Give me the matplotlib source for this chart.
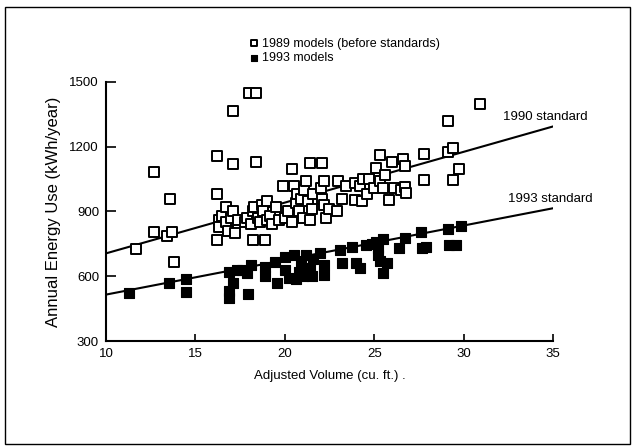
import matplotlib
matplotlib.use("Agg")
import matplotlib.pyplot as plt
from matplotlib.patches import Rectangle

plt.rcParams['font.family'] = ['Liberation Sans', 'DejaVu Sans']

# 1989 models (before standards): adjusted volume (cu. ft.), energy use (kWh/year)
vol_1989 = [11.7, 12.7, 12.7, 13.4, 13.7, 13.6, 13.8,
            16.2, 16.2, 16.2, 16.3, 16.3, 16.5, 16.7, 16.7, 16.8, 17.0, 17.1, 17.2, 17.1, 17.1, 17.4,
            17.8, 17.9, 18.0, 18.1, 18.2, 18.2, 18.3, 18.4, 18.4, 18.5, 18.6, 18.7, 18.8, 18.9, 19.0,
            19.0, 19.2, 19.3, 19.5, 19.7,
            19.9, 20.0, 20.2, 20.4, 20.4, 20.5, 20.6, 20.7, 20.8, 20.9, 21.0, 21.1, 21.2, 21.3, 21.4,
            21.4, 21.5, 21.6, 22.0, 22.1, 22.1, 22.2, 22.2, 22.3, 22.5,
            22.9, 23.0, 23.2, 23.4, 23.9, 23.9, 24.2, 24.3, 24.4, 24.6, 24.7, 25.0, 25.1, 25.3, 25.35,
            25.5, 25.6, 25.8, 26.0, 26.1, 26.5, 26.6, 26.7, 26.7, 26.8,
            27.8, 27.8, 29.1, 29.1, 29.4, 29.4, 29.75, 30.9]
kwh_1989 = [725, 1085, 805, 785, 805, 960, 665,
            770, 980, 1155, 860, 830, 880, 920, 850, 810, 870, 900, 800, 1120, 1365, 860,
            850, 870, 1450, 840, 900, 770, 920, 1450, 1130, 870, 850, 930, 900, 770, 950,
            860, 880, 840, 920, 860,
            1020, 870, 900, 1095, 850, 1020, 940, 980, 900, 960, 870, 1000, 1040, 950, 1125,
            860, 910, 980, 1010, 1125, 960, 1040, 930, 870, 910,
            900, 1040, 960, 1020, 1030, 955, 1020, 950, 1050, 980, 1050, 1010, 1100, 1040, 1160,
            1010, 1070, 955, 1130, 1010, 1000, 1145, 1110, 1015, 985,
            1165, 1045, 1320, 1175, 1195, 1045, 1095, 1400]

# 1993 models
vol_1993 = [11.3, 13.5, 14.5, 14.5, 16.9, 16.9, 16.9, 17.1, 17.3, 17.6, 17.9, 17.95, 18.1,
            18.9, 18.9, 19.45, 19.55, 20.0, 20.0, 20.25, 20.5, 20.6, 20.8, 20.9, 21.0, 21.2,
            21.4, 21.5, 21.6, 21.95, 22.2, 22.2, 23.1, 23.2, 23.75, 24.0, 24.2, 24.55, 24.9,
            25.1, 25.2, 25.2, 25.3, 25.5, 25.5, 25.7, 26.4, 26.7, 27.6, 27.7, 27.9, 29.1, 29.2,
            29.6, 29.85]
kwh_1993 = [524, 570, 588, 527, 500, 530, 620, 570, 630, 630, 615, 520, 650,
            645, 600, 668, 570, 690, 630, 592, 700, 585, 620, 660, 600, 700,
            640, 600, 680, 706, 653, 607, 721, 660, 736, 660, 638, 744, 750,
            760, 700, 730, 670, 615, 774, 660, 729, 779, 804, 729, 735, 820, 744,
            744, 835]

# Standards (lines): endpoints in adjusted volume
std_vol = [10, 35]
std_1990 = [706, 1294]
std_1993 = [515, 915]

x_ticks = [10, 15, 20, 25, 30, 35]
y_ticks = [300, 600, 900, 1200, 1500]

fig = plt.figure(figsize=(6.34, 4.48), dpi=100)
ax = fig.add_axes([106/634, 1 - 341/448, (553-106)/634, (341-82)/448])

ax.plot(std_vol, std_1990, color='black', lw=1.5, zorder=2)
ax.plot(std_vol, std_1993, color='black', lw=1.5, zorder=2)

ax.scatter(vol_1989, kwh_1989, marker='s', s=42, facecolors='white',
           edgecolors='black', linewidths=1.4, zorder=3, label='1989 models (before standards)')
ax.scatter(vol_1993, kwh_1993, marker='s', s=44, facecolors='black',
           edgecolors='black', linewidths=0.8, zorder=3, label='1993 models')

ax.text(32.2, 1338, '1990 standard', fontsize=9.5, va='center', ha='left', clip_on=False)
ax.text(32.5, 958, '1993 standard', fontsize=9.5, va='center', ha='left', clip_on=False)

ax.set_xlim(10, 35)
ax.set_ylim(300, 1500)
ax.set_xticks(x_ticks)
ax.set_yticks(y_ticks)
ax.tick_params(axis='y', direction='in', length=7, width=1.2, labelsize=9.5, pad=5)
ax.tick_params(axis='x', direction='in', length=5, width=1.2, labelsize=9.5, pad=5)
for s in ['top', 'right']:
    ax.spines[s].set_visible(False)
for s in ['left', 'bottom']:
    ax.spines[s].set_linewidth(1.5)

ax.set_xlabel('Adjusted Volume (cu. ft.) .', fontsize=9.5, labelpad=7)
ax.set_ylabel('Annual Energy Use (kWh/year)', fontsize=12, labelpad=6)

leg = ax.legend(loc='lower left', bbox_to_anchor=(248/634, 1 - 64/448),
                bbox_transform=fig.transFigure, frameon=False, fontsize=9,
                handletextpad=0.15, labelspacing=0.2, borderaxespad=0, borderpad=0,
                markerscale=0.6, handlelength=1.0)

fig.add_artist(Rectangle((5/634, 1 - 444/448), 625/634, 437/448, transform=fig.transFigure,
                         fill=False, edgecolor='black', lw=1.0))

fig.savefig('out.png', dpi=100)
